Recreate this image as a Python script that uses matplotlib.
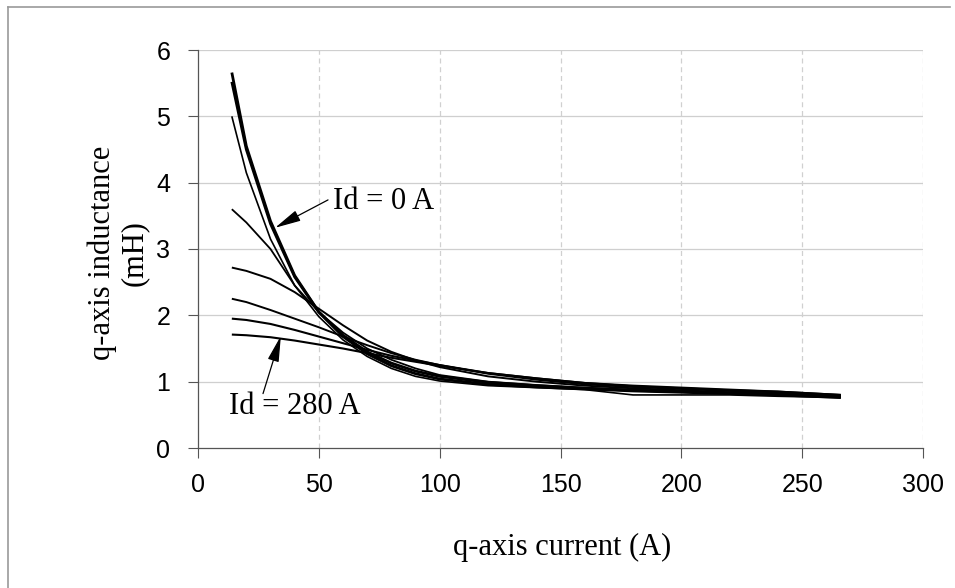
import matplotlib
matplotlib.use("Agg")
import matplotlib.pyplot as plt
from matplotlib.lines import Line2D

# q-axis current (A)
iq = [14, 20, 30, 40, 50, 60, 70, 80, 90, 100, 120, 140, 160, 180, 200, 220, 240, 266]

# q-axis inductance (mH) for each d-axis current
lq_id0 = [5.66, 4.55, 3.42, 2.60, 2.05, 1.68, 1.42, 1.24, 1.12, 1.04, 0.96, 0.92, 0.89, 0.86, 0.84, 0.82, 0.80, 0.76]
lq_id40 = [5.52, 4.50, 3.38, 2.58, 2.05, 1.70, 1.45, 1.28, 1.16, 1.08, 0.99, 0.94, 0.90, 0.87, 0.85, 0.83, 0.81, 0.77]
lq_id80 = [5.00, 4.15, 3.15, 2.45, 1.98, 1.63, 1.38, 1.20, 1.08, 1.01, 0.94, 0.91, 0.88, 0.80, 0.80, 0.80, 0.78, 0.76]
lq_id120 = [3.60, 3.40, 3.00, 2.45, 2.05, 1.74, 1.50, 1.33, 1.20, 1.10, 1.00, 0.95, 0.91, 0.88, 0.85, 0.83, 0.81, 0.77]
lq_id160 = [2.72, 2.67, 2.55, 2.35, 2.10, 1.85, 1.62, 1.45, 1.32, 1.22, 1.08, 1.00, 0.94, 0.90, 0.87, 0.84, 0.82, 0.78]
lq_id200 = [2.25, 2.20, 2.08, 1.95, 1.82, 1.68, 1.55, 1.43, 1.33, 1.25, 1.12, 1.03, 0.96, 0.92, 0.89, 0.86, 0.84, 0.79]
lq_id240 = [1.95, 1.93, 1.87, 1.78, 1.68, 1.58, 1.48, 1.39, 1.32, 1.25, 1.13, 1.05, 0.98, 0.93, 0.90, 0.87, 0.85, 0.80]
lq_id280 = [1.71, 1.70, 1.67, 1.62, 1.56, 1.50, 1.43, 1.36, 1.30, 1.24, 1.13, 1.05, 0.98, 0.94, 0.91, 0.88, 0.85, 0.80]

curves = [lq_id0, lq_id40, lq_id80, lq_id120, lq_id160, lq_id200, lq_id240, lq_id280]
widths = [2.0, 2.0, 1.2, 1.3, 1.4, 1.4, 1.5, 1.5]

x_ticks = [0, 50, 100, 150, 200, 250, 300]
y_ticks = [0, 1, 2, 3, 4, 5, 6]

serif = ["Liberation Serif", "DejaVu Serif"]
sans = ["Liberation Sans", "DejaVu Sans"]

fig = plt.figure(figsize=(9.55, 5.88), dpi=100)
ax = fig.add_axes([198 / 955, 1 - 448 / 588, (923 - 198) / 955, (448 - 50) / 588])

for lq, lw in zip(curves, widths):
    ax.plot(iq, lq, color="black", lw=lw, solid_capstyle="butt", solid_joinstyle="round", zorder=3)

ax.set_xlim(0, 300)
ax.set_ylim(0, 6)
ax.set_xticks(x_ticks)
ax.set_yticks(y_ticks)
ax.set_xticklabels([str(v) for v in x_ticks], family=sans, fontsize=18)
ax.set_yticklabels([str(v) for v in y_ticks], family=sans, fontsize=18)
ax.tick_params(axis="both", direction="out", length=7, width=0.8, color="#555555")
ax.tick_params(axis="x", pad=11)
ax.tick_params(axis="y", pad=13)

for y in y_ticks[1:]:
    ax.axhline(y, color="#cfcfcf", lw=0.9, zorder=1)
for x in x_ticks[1:]:
    ax.axvline(x, color="#d0d0d0", lw=0.9, ls=(0, (4, 3)), zorder=1)

for side in ["top", "right"]:
    ax.spines[side].set_visible(False)
for side in ["left", "bottom"]:
    ax.spines[side].set_color("#555555")
    ax.spines[side].set_linewidth(0.9)

arrow = dict(arrowstyle="-|>,head_length=1.6,head_width=0.35", color="black", lw=0.9,
             shrinkA=0, shrinkB=0, mutation_scale=10)
ax.text(55.9, 3.71, "Id = 0 A", family=serif, fontsize=22, va="center", ha="left")
ax.annotate("", xy=(31.9, 3.32), xytext=(53.8, 3.74), arrowprops=arrow)
ax.text(13, 0.63, "Id = 280 A", family=serif, fontsize=22, va="center", ha="left")
ax.annotate("", xy=(34.3, 1.69), xytext=(26.9, 0.82), arrowprops=arrow)

fig.text(562 / 955, 1 - 547 / 588, "q-axis current (A)", family=serif, fontsize=22,
         ha="center", va="center")
fig.text(118 / 955, 1 - 253 / 588, "q-axis inductance\n(mH)", family=serif, fontsize=22,
         ha="center", va="center", rotation=90, linespacing=1.1, multialignment="center")

# scanned page border (top and left edges)
fig.add_artist(Line2D([8 / 955, 8 / 955], [0, 1 - 7 / 588], color="#9a9a9a", lw=1.2))
fig.add_artist(Line2D([8 / 955, 950 / 955], [1 - 7 / 588, 1 - 7 / 588], color="#9a9a9a", lw=1.2))

fig.savefig("out.png", dpi=100)
